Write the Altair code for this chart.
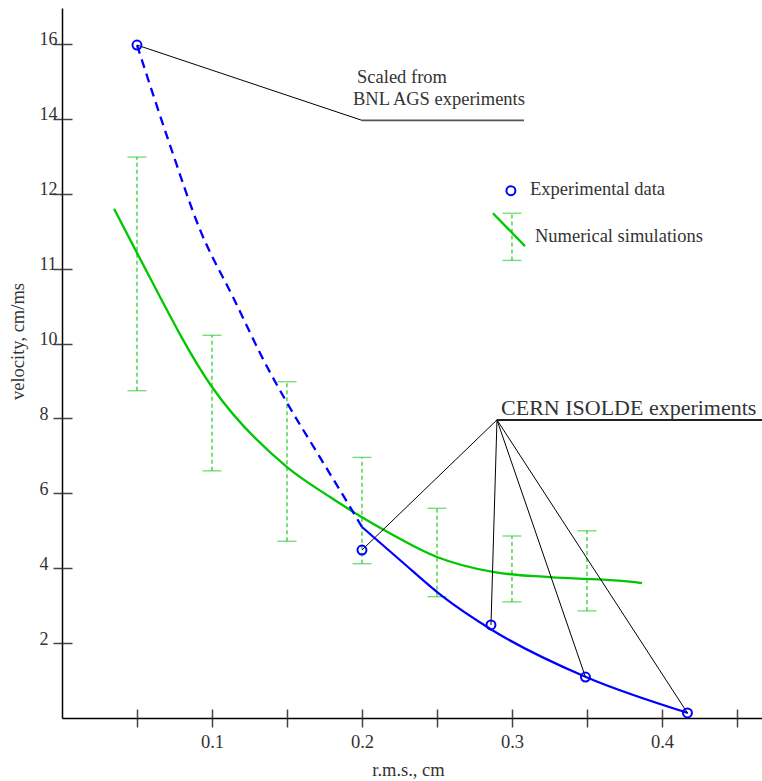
import altair as alt
import pandas as pd

# ---------------- data ----------------
# y axis: nine equally spaced tick slots, labelled as printed in the figure
y_tick_pos = [1, 2, 3, 4, 5, 6, 7, 8, 9]
y_tick_labels = ["2", "4", "6", "8", "10", "11", "12", "14", "16"]
x_ticks = [0.05, 0.1, 0.15, 0.2, 0.25, 0.3, 0.35, 0.4, 0.45]

# experimental data (blue circles)
exp_x = [0.05, 0.2, 0.286, 0.349, 0.417]
exp_y = [8.985, 2.243, 1.242, 0.547, 0.067]

# scaled BNL AGS curve (blue dashed)
bnl_x = [0.05, 0.072, 0.092, 0.114, 0.1367, 0.15, 0.172, 0.192, 0.2]
bnl_y = [8.985, 7.65, 6.52, 5.62, 4.69, 4.21, 3.48, 2.82, 2.55]

# CERN ISOLDE fit (blue solid)
fit_x = [0.2, 0.2253, 0.2533, 0.2867, 0.3493, 0.4173]
fit_y = [2.55, 2.11, 1.63, 1.175, 0.547, 0.067]

# numerical simulations (green line)
sim_x = [0.0347, 0.05, 0.1, 0.15, 0.1787, 0.2, 0.2147, 0.25, 0.2873, 0.3253, 0.3787, 0.3867]
sim_y = [6.80, 6.21, 4.42, 3.35, 2.95, 2.68, 2.51, 2.15, 1.95, 1.88, 1.82, 1.80]

# simulation error bars
err_x = [0.05, 0.1, 0.15, 0.2, 0.25, 0.3, 0.35]
err_hi = [7.49, 5.11, 4.49, 3.48, 2.80, 2.43, 2.50]
err_lo = [4.37, 3.30, 2.36, 2.06, 1.62, 1.55, 1.43]

# annotations
bnl_leader_x = [0.05, 0.2]
bnl_leader_y = [8.985, 7.98]
bnl_under_x = [0.2, 0.308]
bnl_under_y = [7.98, 7.98]
cern_hub_x = 0.29
cern_hub_y = 3.98
cern_under_x2 = 0.4667
cern_targets = [1, 2, 3, 4]  # indices in exp_x / exp_y

texts = ["Scaled from", "BNL AGS experiments", "Experimental data", "Numerical simulations"]
text_x = [0.1967, 0.194, 0.312, 0.3153]
text_y = [8.478, 8.184, 6.98, 6.355]
cern_text = "CERN ISOLDE experiments"
cern_text_x = 0.2927
cern_text_y = 4.045

# legend glyph positions
leg_pt_x, leg_pt_y = 0.2993, 7.04
leg_line_x = [0.2873, 0.3087]
leg_line_y = [6.74, 6.30]
leg_err_x, leg_err_hi, leg_err_lo = 0.3, 6.74, 6.11

# ---------------- styling ----------------
FONT = "Liberation Serif"
TXT = "#333333"
BLUE = "#0000ff"
GREEN = "#00c800"
EGREEN = "#33cc33"

xs = alt.Scale(domain=[0, 0.4667], nice=False, zero=False)
ys = alt.Scale(domain=[0, 9.48], nice=False, zero=False)


def X(field="x", axis=None):
    return alt.X(f"{field}:Q", scale=xs, axis=axis, title=None)


def Y(field="y", axis=None):
    return alt.Y(f"{field}:Q", scale=ys, axis=axis, title=None)


label_arr = "[''," + ",".join(f"'{s}'" for s in y_tick_labels) + "]"

x_axis_main = alt.Axis(
    orient="bottom", values=x_ticks, grid=False,
    labelExpr="(round(datum.value*100) % 10 == 0) ? format(datum.value, '.1f') : ''",
    domainColor="black", domainWidth=1.5, tickColor="#444444", tickWidth=1.5, tickSize=9,
    labelFont=FONT, labelFontSize=18.5, labelColor=TXT, labelBaseline="alphabetic",
    labelPadding=20, labelFlush=False, labelOverlap=False,
    title="r.m.s., cm", titleFont=FONT, titleFontSize=18.5, titleFontWeight="normal",
    titleColor=TXT, titleX=346, titleY=57, titleAlign="center", titleBaseline="alphabetic",
)
y_axis_main = alt.Axis(
    orient="left", values=y_tick_pos, grid=False,
    labelExpr=label_arr + "[datum.value]",
    domainColor="black", domainWidth=1.5, tickColor="#444444", tickWidth=1.5, tickSize=9,
    labelFont=FONT, labelFontSize=18, labelColor=TXT, labelAlign="left",
    labelBaseline="alphabetic", labelPadding=14, labelFlush=False, labelOverlap=False,
    labelOffset=1,
    title="velocity, cm/ms", titleFont=FONT, titleFontSize=18.5, titleFontWeight="normal",
    titleColor=TXT, titleX=-39, titleY=333, titleAlign="center", titleBaseline="alphabetic",
    titleAngle=270,
)
# inward halves of the ticks (crossing ticks)
x_axis_in = alt.Axis(orient="top", offset=-710, values=x_ticks, grid=False, labels=False,
                     domain=False, tickColor="#444444", tickWidth=1.5, tickSize=9, title=None)
y_axis_in = alt.Axis(orient="right", offset=-700, values=y_tick_pos, grid=False, labels=False,
                     domain=False, tickColor="#444444", tickWidth=1.5, tickSize=10, title=None)

# ---------------- data frames ----------------
exp_df = pd.DataFrame({"x": exp_x, "y": exp_y})
bnl_df = pd.DataFrame({"x": bnl_x, "y": bnl_y})
fit_df = pd.DataFrame({"x": fit_x, "y": fit_y})
sim_df = pd.DataFrame({"x": sim_x, "y": sim_y})
err_df = pd.DataFrame({"x": err_x, "lo": err_lo, "hi": err_hi})
cap_df = pd.DataFrame({"x": err_x + err_x, "y": err_lo + err_hi})

seg_rows = []
seg_rows.append({"x": bnl_leader_x[0], "y": bnl_leader_y[0], "x2": bnl_leader_x[1], "y2": bnl_leader_y[1]})
for i in cern_targets:
    seg_rows.append({"x": cern_hub_x, "y": cern_hub_y, "x2": exp_x[i], "y2": exp_y[i]})
seg_df = pd.DataFrame(seg_rows)

bnl_under_df = pd.DataFrame({"x": [bnl_under_x[0]], "y": [bnl_under_y[0]],
                             "x2": [bnl_under_x[1]], "y2": [bnl_under_y[1]]})
cern_under_df = pd.DataFrame({"x": [cern_hub_x], "y": [cern_hub_y],
                              "x2": [cern_under_x2], "y2": [cern_hub_y]})

text_df = pd.DataFrame({"x": text_x, "y": text_y, "t": texts})
cern_text_df = pd.DataFrame({"x": [cern_text_x], "y": [cern_text_y], "t": [cern_text]})

leg_pt_df = pd.DataFrame({"x": [leg_pt_x], "y": [leg_pt_y]})
leg_line_df = pd.DataFrame({"x": leg_line_x, "y": leg_line_y})
leg_err_df = pd.DataFrame({"x": [leg_err_x], "lo": [leg_err_lo], "hi": [leg_err_hi]})
leg_cap_df = pd.DataFrame({"x": [leg_err_x, leg_err_x], "y": [leg_err_lo, leg_err_hi]})

# ---------------- layers ----------------
err_rules = alt.Chart(pd.concat([err_df, leg_err_df])).mark_rule(
    color=EGREEN, strokeWidth=1.3, strokeDash=[4, 3]
).encode(x=X(axis=x_axis_main), y=Y("lo", axis=y_axis_main), y2="hi:Q")

err_caps = alt.Chart(pd.concat([cap_df, leg_cap_df])).mark_tick(
    color=EGREEN, orient="horizontal", size=19, thickness=1.3
).encode(x=X(axis=x_axis_in), y=Y(axis=y_axis_in))

sim_line = alt.Chart(sim_df).mark_line(color=GREEN, strokeWidth=2.3, interpolate="monotone").encode(
    x=X(), y=Y())
leg_line = alt.Chart(leg_line_df).mark_line(color=GREEN, strokeWidth=2.3).encode(x=X(), y=Y())

bnl_line = alt.Chart(bnl_df).mark_line(color=BLUE, strokeWidth=2.3, strokeDash=[9, 6],
                                       interpolate="monotone").encode(x=X(), y=Y())
fit_line = alt.Chart(fit_df).mark_line(color=BLUE, strokeWidth=2.2, interpolate="monotone").encode(
    x=X(), y=Y())

segs = alt.Chart(seg_df).mark_rule(color="black", strokeWidth=1).encode(
    x=X(), y=Y(), x2="x2:Q", y2="y2:Q")
bnl_under = alt.Chart(bnl_under_df).mark_rule(color="#555555", strokeWidth=1.6).encode(
    x=X(), y=Y(), x2="x2:Q", y2="y2:Q")
cern_under = alt.Chart(cern_under_df).mark_rule(color="#222222", strokeWidth=2).encode(
    x=X(), y=Y(), x2="x2:Q", y2="y2:Q")

points = alt.Chart(pd.concat([exp_df, leg_pt_df])).mark_point(
    shape="circle", filled=False, color=BLUE, size=80, strokeWidth=2, opacity=1
).encode(x=X(), y=Y())

labels = alt.Chart(text_df).mark_text(
    align="left", baseline="alphabetic", font=FONT, fontSize=18.5, color=TXT
).encode(x=X(), y=Y(), text="t:N")
cern_label = alt.Chart(cern_text_df).mark_text(
    align="left", baseline="alphabetic", font=FONT, fontSize=22, color=TXT
).encode(x=X(), y=Y(), text="t:N")

chart = alt.layer(
    err_rules, err_caps, sim_line, leg_line, bnl_line, fit_line,
    segs, bnl_under, cern_under, points, labels, cern_label
).resolve_axis(x="independent", y="independent").properties(
    width=700, height=710,
    autosize=alt.AutoSizeParams(type="none"),
    padding={"left": 62, "top": 8, "right": 0, "bottom": 63},
    background="white",
).configure_view(stroke=None)

chart.save("out.html", embed_options={"renderer": "svg", "actions": False})
